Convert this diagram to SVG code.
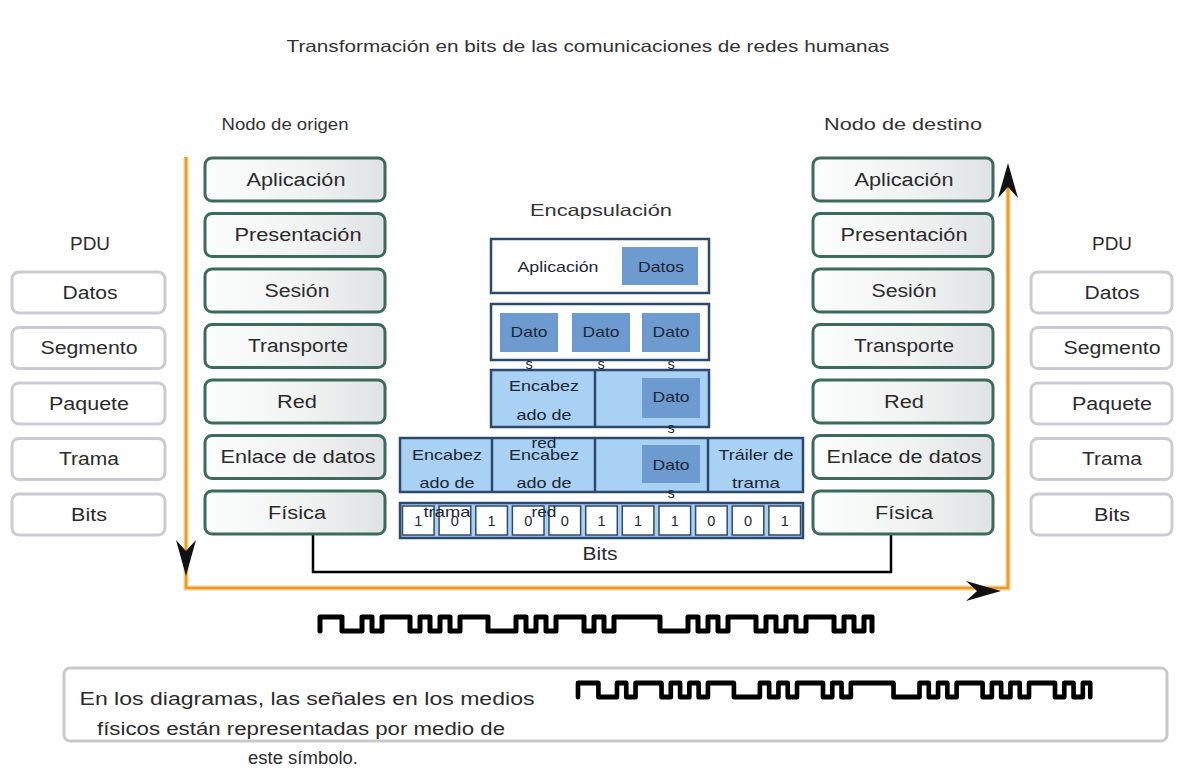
<svg xmlns="http://www.w3.org/2000/svg" xmlns:xlink="http://www.w3.org/1999/xlink" width="1177" height="776" viewBox="0 0 1177 776">
<defs>
<style>
text{font-family:"Liberation Sans",Arial,sans-serif;dominant-baseline:central;text-anchor:middle;}
.t{fill:#333;font-size:16.5px;}
.nt{fill:#2b2b2b;font-size:18px;}
.pt{fill:#2b2b2b;font-size:17.5px;}
.et{fill:#1c2636;font-size:14.5px;}
.node{fill:url(#nodeFill);stroke:#3c6b5b;stroke-width:3;}
.pdu{fill:#fff;stroke:#cbcbd3;stroke-width:3;}
.ew{fill:#fff;stroke:#2d4a6e;stroke-width:2.5;}
.el{fill:#a9d1f3;stroke:#2d4a6e;stroke-width:2.5;}
.ed{fill:#6d9bd0;stroke:none;}
.cell{fill:#fff;stroke:#2d4a6e;stroke-width:1.5;}
.wave{fill:none;stroke:#000;stroke-width:5;stroke-linejoin:round;stroke-linecap:round;}
</style>
<linearGradient id="nodeFill" x1="0" y1="0" x2="1" y2="0">
<stop offset="0" stop-color="#fcfdfd"/>
<stop offset="0.55" stop-color="#f1f3f3"/>
<stop offset="1" stop-color="#e0e3e3"/>
</linearGradient>
<path id="wave" d="M0,14 V0 h22 V14 h20 V0 h10 V14 h10 V0 h28 V14 h10 V0 h10 V14 h10 V0 h10 V14 h10 V0 h28 V14 h28 V0 h10 V14 h10 V0 h10 V14 h10 V0 h28 V14 h10 V0 h10 V14 h10 V0 h46 V14 h28 V0 h10 V14 h10 V0 h10 V14 h10 V0 h28 V14 h10 V0 h10 V14 h10 V0 h10 V14 h10 V0 h28 V14 h10 V0 h10 V14 h10 V0 h8 V14"/>
</defs>
<rect width="1177" height="776" fill="#fff"/>

<g id="titles">
<text class="t" x="588" y="46" textLength="603" lengthAdjust="spacingAndGlyphs">Transformación en bits de las comunicaciones de redes humanas</text>
<text class="t" x="285" y="124" textLength="127" lengthAdjust="spacingAndGlyphs">Nodo de origen</text>
<text class="t" x="903" y="124" textLength="158" lengthAdjust="spacingAndGlyphs">Nodo de destino</text>
<text class="pt" x="90" y="244" textLength="40" lengthAdjust="spacingAndGlyphs">PDU</text>
<text class="pt" x="1112" y="244" textLength="40" lengthAdjust="spacingAndGlyphs">PDU</text>
<text class="t" x="601" y="210" font-size="17" textLength="142" lengthAdjust="spacingAndGlyphs">Encapsulación</text>
</g>

<g id="connectors">
<path d="M186,157 V588 H1008 V172" fill="none" stroke="#f8d48c" stroke-width="5"/>
<path d="M186,157 V588 H1008 V172" fill="none" stroke="#ec9a2c" stroke-width="2.5"/>
<path d="M313,535 V572 H891 V535" fill="none" stroke="#000" stroke-width="2.5"/>
<path d="M186,576 L176,540 L186,551 L196,540 Z" fill="#111"/>
<path d="M1008,163 L998,198 L1008,187 L1018,198 Z" fill="#111"/>
<path d="M1001,591 L966,581 L977,591 L966,601 Z" fill="#111"/>
<text class="pt" x="600" y="554" textLength="35" lengthAdjust="spacingAndGlyphs">Bits</text>
</g>

<g id="src-aplicacion"><rect class="node" x="205" y="158" width="180" height="43" rx="7"/><text class="nt" x="296" y="180" textLength="99" lengthAdjust="spacingAndGlyphs">Aplicación</text></g>
<g id="src-presentacion"><rect class="node" x="205" y="213.5" width="180" height="43" rx="7"/><text class="nt" x="298" y="235" textLength="127" lengthAdjust="spacingAndGlyphs">Presentación</text></g>
<g id="src-sesion"><rect class="node" x="205" y="269" width="180" height="43" rx="7"/><text class="nt" x="297" y="291" textLength="65" lengthAdjust="spacingAndGlyphs">Sesión</text></g>
<g id="src-transporte"><rect class="node" x="205" y="324.5" width="180" height="43" rx="7"/><text class="nt" x="298" y="346" textLength="100" lengthAdjust="spacingAndGlyphs">Transporte</text></g>
<g id="src-red"><rect class="node" x="205" y="380" width="180" height="43" rx="7"/><text class="nt" x="297" y="402" textLength="40" lengthAdjust="spacingAndGlyphs">Red</text></g>
<g id="src-enlace"><rect class="node" x="205" y="435.5" width="180" height="43" rx="7"/><text class="nt" x="298" y="457" textLength="155" lengthAdjust="spacingAndGlyphs">Enlace de datos</text></g>
<g id="src-fisica"><rect class="node" x="205" y="491" width="180" height="43" rx="7"/><text class="nt" x="297" y="513" textLength="58" lengthAdjust="spacingAndGlyphs">Física</text></g>

<g id="dst-aplicacion"><rect class="node" x="813" y="158" width="180" height="43" rx="7"/><text class="nt" x="904" y="180" textLength="99" lengthAdjust="spacingAndGlyphs">Aplicación</text></g>
<g id="dst-presentacion"><rect class="node" x="813" y="213.5" width="180" height="43" rx="7"/><text class="nt" x="904" y="235" textLength="127" lengthAdjust="spacingAndGlyphs">Presentación</text></g>
<g id="dst-sesion"><rect class="node" x="813" y="269" width="180" height="43" rx="7"/><text class="nt" x="904" y="291" textLength="65" lengthAdjust="spacingAndGlyphs">Sesión</text></g>
<g id="dst-transporte"><rect class="node" x="813" y="324.5" width="180" height="43" rx="7"/><text class="nt" x="904" y="346" textLength="100" lengthAdjust="spacingAndGlyphs">Transporte</text></g>
<g id="dst-red"><rect class="node" x="813" y="380" width="180" height="43" rx="7"/><text class="nt" x="904" y="402" textLength="40" lengthAdjust="spacingAndGlyphs">Red</text></g>
<g id="dst-enlace"><rect class="node" x="813" y="435.5" width="180" height="43" rx="7"/><text class="nt" x="904" y="457" textLength="155" lengthAdjust="spacingAndGlyphs">Enlace de datos</text></g>
<g id="dst-fisica"><rect class="node" x="813" y="491" width="180" height="43" rx="7"/><text class="nt" x="904" y="513" textLength="58" lengthAdjust="spacingAndGlyphs">Física</text></g>

<g id="pdu-left-datos"><rect class="pdu" x="12" y="272" width="153" height="41" rx="7"/><text class="pt" x="90" y="293" textLength="55" lengthAdjust="spacingAndGlyphs">Datos</text></g>
<g id="pdu-left-segmento"><rect class="pdu" x="12" y="327.5" width="153" height="41" rx="7"/><text class="pt" x="89" y="348" textLength="97" lengthAdjust="spacingAndGlyphs">Segmento</text></g>
<g id="pdu-left-paquete"><rect class="pdu" x="12" y="383" width="153" height="41" rx="7"/><text class="pt" x="89" y="404" textLength="80" lengthAdjust="spacingAndGlyphs">Paquete</text></g>
<g id="pdu-left-trama"><rect class="pdu" x="12" y="438.5" width="153" height="41" rx="7"/><text class="pt" x="89" y="459" textLength="60" lengthAdjust="spacingAndGlyphs">Trama</text></g>
<g id="pdu-left-bits"><rect class="pdu" x="12" y="494" width="153" height="41" rx="7"/><text class="pt" x="89" y="515" textLength="36" lengthAdjust="spacingAndGlyphs">Bits</text></g>

<g id="pdu-right-datos"><rect class="pdu" x="1031" y="272" width="141" height="41" rx="7"/><text class="pt" x="1112" y="293" textLength="55" lengthAdjust="spacingAndGlyphs">Datos</text></g>
<g id="pdu-right-segmento"><rect class="pdu" x="1031" y="327.5" width="141" height="41" rx="7"/><text class="pt" x="1112" y="348" textLength="97" lengthAdjust="spacingAndGlyphs">Segmento</text></g>
<g id="pdu-right-paquete"><rect class="pdu" x="1031" y="383" width="141" height="41" rx="7"/><text class="pt" x="1112" y="404" textLength="80" lengthAdjust="spacingAndGlyphs">Paquete</text></g>
<g id="pdu-right-trama"><rect class="pdu" x="1031" y="438.5" width="141" height="41" rx="7"/><text class="pt" x="1112" y="459" textLength="60" lengthAdjust="spacingAndGlyphs">Trama</text></g>
<g id="pdu-right-bits"><rect class="pdu" x="1031" y="494" width="141" height="41" rx="7"/><text class="pt" x="1112" y="515" textLength="36" lengthAdjust="spacingAndGlyphs">Bits</text></g>

<g id="enc-row1">
<rect class="ew" x="491" y="239" width="218" height="54"/>
<rect class="ed" x="622" y="247" width="76" height="38"/>
<text class="et" x="558" y="267" textLength="81" lengthAdjust="spacingAndGlyphs">Aplicación</text>
<text class="et" x="661" y="267" textLength="46" lengthAdjust="spacingAndGlyphs">Datos</text>
</g>
<g id="enc-row2">
<rect class="ew" x="491" y="304" width="218" height="56"/>
<rect class="ed" x="500" y="313" width="58" height="39"/>
<rect class="ed" x="572" y="313" width="58" height="39"/>
<rect class="ed" x="642" y="313" width="58" height="39"/>
</g>
<g id="enc-row3">
<rect class="el" x="491" y="370" width="218" height="57"/>
<line x1="595" y1="370" x2="595" y2="427" stroke="#2d4a6e" stroke-width="2.5"/>
<rect class="ed" x="642" y="378" width="58" height="40"/>
</g>
<g id="enc-row4">
<rect class="el" x="400" y="438" width="403" height="54"/>
<line x1="492" y1="438" x2="492" y2="492" stroke="#2d4a6e" stroke-width="2.5"/>
<line x1="595" y1="438" x2="595" y2="492" stroke="#2d4a6e" stroke-width="2.5"/>
<line x1="708" y1="438" x2="708" y2="492" stroke="#2d4a6e" stroke-width="2.5"/>
<rect class="ed" x="642" y="445" width="58" height="38"/>
</g>
<g id="enc-bits">
<rect class="el" x="400" y="503" width="403" height="35"/>
<rect class="cell" x="402.5" y="506" width="31.6" height="29"/>
<rect class="cell" x="439.1" y="506" width="31.6" height="29"/>
<rect class="cell" x="475.8" y="506" width="31.6" height="29"/>
<rect class="cell" x="512.4" y="506" width="31.6" height="29"/>
<rect class="cell" x="549.0" y="506" width="31.6" height="29"/>
<rect class="cell" x="585.7" y="506" width="31.6" height="29"/>
<rect class="cell" x="622.3" y="506" width="31.6" height="29"/>
<rect class="cell" x="659.0" y="506" width="31.6" height="29"/>
<rect class="cell" x="695.6" y="506" width="31.6" height="29"/>
<rect class="cell" x="732.2" y="506" width="31.6" height="29"/>
<rect class="cell" x="768.9" y="506" width="31.6" height="29"/>
<text class="et" x="418.3" y="521">1</text>
<text class="et" x="454.9" y="521">0</text>
<text class="et" x="491.6" y="521">1</text>
<text class="et" x="528.2" y="521">0</text>
<text class="et" x="564.9" y="521">0</text>
<text class="et" x="601.5" y="521">1</text>
<text class="et" x="638.1" y="521">1</text>
<text class="et" x="674.8" y="521">1</text>
<text class="et" x="711.4" y="521">0</text>
<text class="et" x="748.1" y="521">0</text>
<text class="et" x="784.7" y="521">1</text>
</g>
<g id="enc-texts">
<text class="et" x="529" y="332" textLength="37" lengthAdjust="spacingAndGlyphs">Dato</text>
<text class="et" x="529" y="364">s</text>
<text class="et" x="601" y="332" textLength="37" lengthAdjust="spacingAndGlyphs">Dato</text>
<text class="et" x="601" y="364">s</text>
<text class="et" x="671" y="332" textLength="37" lengthAdjust="spacingAndGlyphs">Dato</text>
<text class="et" x="671" y="364">s</text>
<text class="et" x="544" y="386" textLength="70" lengthAdjust="spacingAndGlyphs">Encabez</text>
<text class="et" x="544" y="415" textLength="55" lengthAdjust="spacingAndGlyphs">ado de</text>
<text class="et" x="544" y="443" textLength="25" lengthAdjust="spacingAndGlyphs">red</text>
<text class="et" x="671" y="397" textLength="37" lengthAdjust="spacingAndGlyphs">Dato</text>
<text class="et" x="671" y="428">s</text>
<text class="et" x="447" y="455" textLength="70" lengthAdjust="spacingAndGlyphs">Encabez</text>
<text class="et" x="447" y="483" textLength="55" lengthAdjust="spacingAndGlyphs">ado de</text>
<text class="et" x="447" y="512" textLength="47" lengthAdjust="spacingAndGlyphs">trama</text>
<text class="et" x="544" y="455" textLength="70" lengthAdjust="spacingAndGlyphs">Encabez</text>
<text class="et" x="544" y="483" textLength="55" lengthAdjust="spacingAndGlyphs">ado de</text>
<text class="et" x="544" y="512" textLength="25" lengthAdjust="spacingAndGlyphs">red</text>
<text class="et" x="671" y="465" textLength="37" lengthAdjust="spacingAndGlyphs">Dato</text>
<text class="et" x="671" y="493">s</text>
<text class="et" x="756" y="455" textLength="75" lengthAdjust="spacingAndGlyphs">Tráiler de</text>
<text class="et" x="756" y="483" textLength="48" lengthAdjust="spacingAndGlyphs">trama</text>
</g>

<g id="signal">
<use xlink:href="#wave" href="#wave" class="wave" transform="translate(320,617)"/>
</g>

<g id="legend">
<rect x="64" y="668" width="1103" height="73" rx="6" fill="#fff" stroke="#c9c9c9" stroke-width="3"/>
<text class="pt" x="307" y="699" textLength="455" lengthAdjust="spacingAndGlyphs">En los diagramas, las señales en los medios</text>
<text class="pt" x="301" y="729" textLength="408" lengthAdjust="spacingAndGlyphs">físicos están representadas por medio de</text>
<text class="pt" x="303" y="758" textLength="110" lengthAdjust="spacingAndGlyphs">este símbolo.</text>
<use xlink:href="#wave" href="#wave" class="wave" transform="translate(578,683) scale(0.928,1)"/>
</g>
</svg>
